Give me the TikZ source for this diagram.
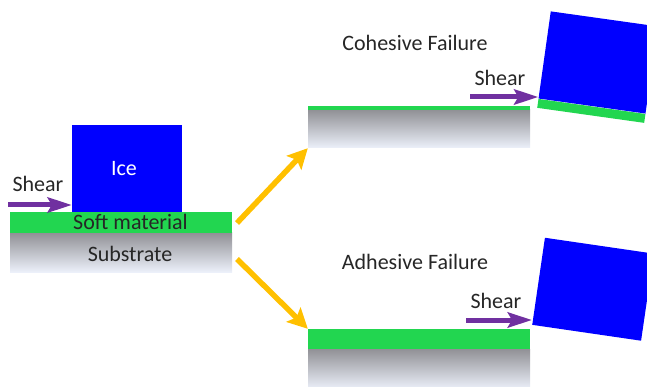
\documentclass[tikz,border=0pt]{standalone}
\usepackage{fontspec}
\setmainfont{Carlito}
\usetikzlibrary{arrows.meta}
\definecolor{iceblue}{RGB}{0,0,255}
\definecolor{softgreen}{RGB}{34,214,80}
\definecolor{shearpurple}{RGB}{112,48,160}
\definecolor{arrowyellow}{RGB}{255,192,0}
\definecolor{subtop}{RGB}{145,145,150}
\definecolor{subbot}{RGB}{236,240,250}
\definecolor{txt}{RGB}{38,38,38}
\tikzset{
  lbl/.style={font=\fontsize{22}{26}\selectfont, text=txt, inner sep=0pt},
  iceblock/.style={rectangle, fill=iceblue, inner sep=0pt, minimum width=110pt, minimum height=87pt},
  softlayer/.style={rectangle, fill=softgreen, inner sep=0pt},
  substrate/.style={rectangle, top color=subtop, bottom color=subbot, inner sep=0pt},
  sheararrow/.style={draw=shearpurple, line width=5pt, -{Stealth[length=24pt,width=15pt,inset=4pt]}},
  patharrow/.style={draw=arrowyellow, line width=5.5pt, -{Stealth[length=20pt,width=20pt,inset=4pt]}}
}
\begin{document}
\begin{tikzpicture}[x=1pt,y=-1pt]
\useasboundingbox (0,0) rectangle (647,387);
% left: initial state
\node[substrate, minimum width=222pt, minimum height=39pt] (sub) at (121,252.5) {};
\node[softlayer, minimum width=222pt, minimum height=21pt] (soft) at (121,222.5) {};
\node[iceblock] (ice) at (127,168.5) {};
\node[lbl] at (130,254) {Substrate};
\node[lbl] at (130.5,222) {Soft material};
\node[lbl, text=white] at (124,169) {Ice};
\node[lbl] (shl) at (38,184) {Shear};
\coordinate (s1) at (8,205);
\draw[sheararrow] (s1) -- (s1 -| ice.west);
% cohesive failure
\node[substrate, minimum width=222pt, minimum height=38pt] (csub) at (419,129) {};
\node[softlayer, minimum width=222pt, minimum height=4pt] (cfilm) at (419,108) {};
\node[softlayer, minimum width=108pt, minimum height=9pt, rotate=-8, anchor=south west] (cgreen) at (537,108) {};
\node[iceblock, minimum width=108pt, minimum height=88pt, rotate=-8, anchor=south west] (cblk) at (cgreen.north west) {};
\node[lbl] (coh) at (415,43) {Cohesive Failure};
\node[lbl] (shc) at (500,78) {Shear};
\coordinate (s2) at (470,97);
\draw[sheararrow] (s2) -- (s2 -| cblk.south west);
% adhesive failure
\node[substrate, minimum width=222pt, minimum height=40pt] (asub) at (419,369) {};
\node[softlayer, minimum width=222pt, minimum height=20pt] (afilm) at (419,339) {};
\node[iceblock, minimum width=110pt, minimum height=88pt, rotate=-8.3, anchor=south west] (ablk) at (532,325) {};
\node[lbl] (adh) at (415,262) {Adhesive Failure};
\node[lbl] (sha) at (496,301) {Shear};
\coordinate (s3) at (466,320);
\draw[sheararrow] (s3) -- (s3 -| ablk.south west);
% yellow arrows
\coordinate (y1) at (237,223);
\coordinate (y2) at (237,259);
\draw[patharrow] (y1) -- (csub.south west);
\draw[patharrow] (y2) -- (afilm.north west);
\end{tikzpicture}
\end{document}
